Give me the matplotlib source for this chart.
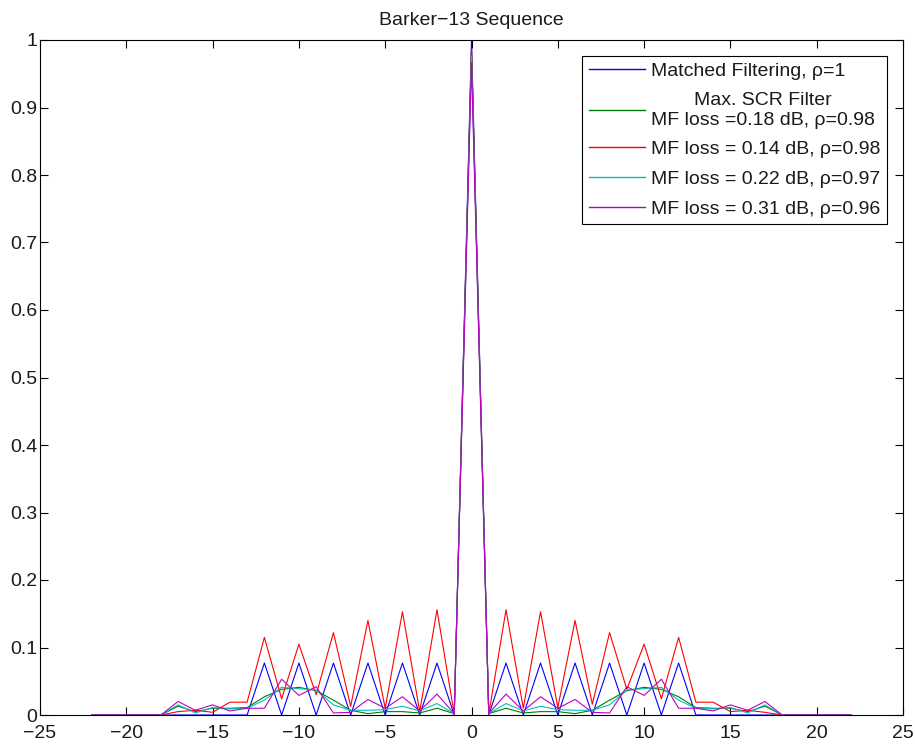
import numpy as np
import matplotlib
matplotlib.use('Agg')
import matplotlib.pyplot as plt

plt.rcParams['font.family'] = ['Liberation Sans', 'DejaVu Sans']

lags = list(range(-22, 23))

# matched filter (Barker-13 autocorrelation, normalised)
mf = [0, 0, 0, 0, 0, 0, 0, 0, 0, 0,
      0.077, 0, 0.077, 0, 0.077, 0, 0.077, 0, 0.077, 0, 0.077, 0,
      1.0,
      0, 0.077, 0, 0.077, 0, 0.077, 0, 0.077, 0, 0.077, 0, 0.077,
      0, 0, 0, 0, 0, 0, 0, 0, 0, 0]

scr = [0, 0, 0, 0, 0,
       0.013, 0.005, 0.010, 0.010, 0.011, 0.027, 0.038, 0.041, 0.036, 0.022,
       0.007, 0.002, 0.005, 0.005, 0.003, 0.010, 0.002,
       0.985,
       0.002, 0.010, 0.003, 0.005, 0.005, 0.002, 0.007, 0.022, 0.036, 0.041,
       0.038, 0.027, 0.011, 0.010, 0.010, 0.005, 0.013,
       0, 0, 0, 0, 0]

loss14 = [0, 0, 0, 0, 0,
          0.005, 0.007, 0.004, 0.019, 0.019, 0.115, 0.024, 0.105, 0.030, 0.122,
          0.013, 0.140, 0.010, 0.153, 0.005, 0.156, 0.001,
          0.986,
          0.001, 0.156, 0.010, 0.153, 0.011, 0.140, 0.016, 0.122, 0.038, 0.105,
          0.024, 0.115, 0.019, 0.019, 0.005, 0.007, 0.004,
          0, 0, 0, 0, 0]

loss22 = [0, 0, 0, 0, 0,
          0.015, 0.003, 0.011, 0.009, 0.010, 0.022, 0.041, 0.039, 0.037, 0.015,
          0.007, 0.007, 0.008, 0.013, 0.006, 0.017, 0.002,
          0.976,
          0.002, 0.017, 0.006, 0.013, 0.008, 0.007, 0.007, 0.015, 0.037, 0.039,
          0.041, 0.022, 0.010, 0.009, 0.011, 0.003, 0.015,
          0, 0, 0, 0, 0]

loss31 = [0, 0, 0, 0, 0,
          0.020, 0.007, 0.015, 0.006, 0.010, 0.010, 0.053, 0.029, 0.042, 0.003,
          0.004, 0.023, 0.010, 0.027, 0.006, 0.031, 0.002,
          0.966,
          0.002, 0.031, 0.006, 0.027, 0.010, 0.023, 0.004, 0.003, 0.042, 0.029,
          0.053, 0.010, 0.010, 0.006, 0.015, 0.007, 0.020,
          0, 0, 0, 0, 0]

labels = ['Matched Filtering, \u03c1=1',
          'Max. SCR Filter\nMF loss =0.18 dB, \u03c1=0.98',
          'MF loss = 0.14 dB, \u03c1=0.98',
          'MF loss = 0.22 dB, \u03c1=0.97',
          'MF loss = 0.31 dB, \u03c1=0.96']
colors = ['#0000ff', '#008000', '#ff0000', '#00bfbf', '#bf00bf']
txtc = '#1a1a1a'

fig = plt.figure(figsize=(9.15, 7.44), dpi=100)
ax = fig.add_axes([40 / 915, 29 / 744, 863 / 915, 675 / 744])

for y, c, lab in zip([mf, scr, loss14, loss22, loss31], colors, labels):
    ax.plot(lags, y, color=c, lw=0.8, label=lab)

ax.set_xlim(-25, 25)
ax.set_ylim(0, 1)
ax.set_xticks(np.arange(-25, 26, 5))
ax.set_yticks(np.arange(0, 1.01, 0.1))
ax.set_yticklabels(['0', '0.1', '0.2', '0.3', '0.4', '0.5', '0.6', '0.7', '0.8', '0.9', '1'])
ax.tick_params(direction='in', top=True, right=True, length=6, labelsize=14,
               labelcolor=txtc)
ax.tick_params(axis='y', pad=2)
ax.tick_params(axis='x', pad=7)
ax.set_title('Barker\u221213 Sequence', fontsize=14, color=txtc, pad=11)

leg = ax.legend(loc='upper right', fontsize=14, fancybox=False, edgecolor='black',
                framealpha=1, handlelength=2.9, handletextpad=0.3,
                borderaxespad=0.8, labelspacing=0.62, borderpad=0.35)
leg.get_frame().set_linewidth(0.8)
for t in leg.get_texts():
    t.set_multialignment('center')
    t.set_color(txtc)
for h in leg.get_lines():
    h.set_linewidth(1.0)

fig.savefig('out.png', dpi=100)
